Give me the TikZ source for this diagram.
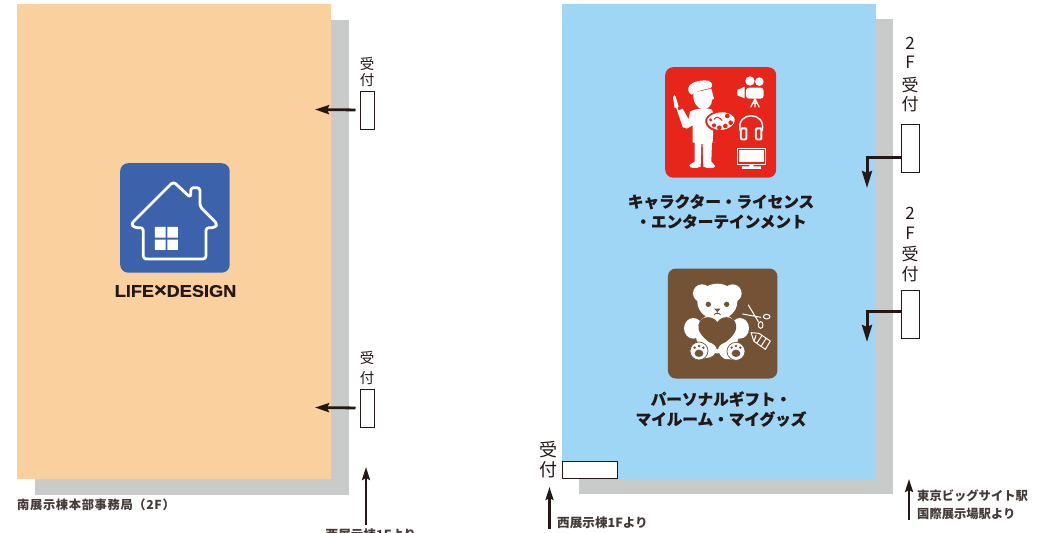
\documentclass[tikz,border=0pt]{standalone}
\usepackage{fontspec}
\setmainfont{Noto Sans CJK JP}
\newfontfamily\latinbold{Liberation Sans}[FakeStretch=1.08,FakeBold=0.4]
\usetikzlibrary{arrows.meta}
\definecolor{orangehall}{HTML}{FAD09E}
\definecolor{shadowgray}{HTML}{C9CACA}
\definecolor{bluehall}{HTML}{9FD6F5}
\definecolor{iconred}{HTML}{E8251A}
\definecolor{iconbrown}{HTML}{745235}
\definecolor{iconblue}{HTML}{3C62AC}
\definecolor{ink}{HTML}{231815}
\tikzset{
  hall/.style={draw=none,minimum width=314pt,minimum height=475pt,inner sep=0pt,anchor=north west},
  deskbox/.style={draw=ink,fill=white,line width=1pt,inner sep=0pt,anchor=north west},
  iconbox/.style={rounded corners=8pt,draw=none},
  leader/.style={draw=ink,line width=2.8pt,-{Stealth[length=14pt,width=9pt,inset=2pt]}},
  bentleader/.style={draw=ink,line width=3pt,-{Stealth[length=17pt,width=10pt,inset=2pt]}},
  thinleader/.style={draw=ink,line width=2.5pt,-{Stealth[length=13pt,width=8pt,inset=2pt]}},
  catlabel/.style={inner sep=0pt,font=\bfseries\addfontfeature{FakeBold=0.5}\fontsize{15.6}{20}\selectfont,text=ink,align=center},
  notelabel/.style={inner sep=0pt,anchor=west,font=\bfseries\fontsize{12.3}{18}\selectfont,text=ink!85!white,align=left},
  desklabel/.style={inner sep=0pt,text=ink,align=center},
  whiteline/.style={draw=white,line cap=round,line join=round},
}
\begin{document}
\begin{tikzpicture}[x=1pt,y=-1pt]
\useasboundingbox (0,0) rectangle (1058,533);
\clip (0,0) rectangle (1058,533);
% halls
\node[hall,fill=shadowgray] (leftshadow) at (35,20) {};
\node[hall,fill=orangehall] (lefthall) at (17,4) {};
\node[hall,fill=shadowgray] (rightshadow) at (579,19) {};
\node[hall,fill=bluehall] (righthall) at (562,4) {};
% desks
\node[deskbox,minimum width=14pt,minimum height=38pt] (deskA) at (359.5,90.5) {};
\node[deskbox,minimum width=14pt,minimum height=38pt] (deskB) at (359.5,388.5) {};
\node[deskbox,minimum width=17.5pt,minimum height=48pt] (deskC) at (901,123.5) {};
\node[deskbox,minimum width=17.5pt,minimum height=48pt] (deskD) at (901,289.5) {};
\node[deskbox,minimum width=55pt,minimum height=17.5pt] (deskE) at (562,460.5) {};
% desk labels
\node[desklabel,font=\fontsize{14.5}{16}\selectfont] (lblA) at (367,71.5) {受\\付};
\node[desklabel,font=\fontsize{14.5}{20}\selectfont] (lblB) at (367,368) {受\\付};
\node[desklabel,font=\fontsize{17}{19}\selectfont] (lblC) at (910,75) {2\\F\\[4pt]受\\付};
\node[desklabel,font=\fontsize{17}{20}\selectfont] (lblD) at (910,244.5) {2\\F\\[1pt]受\\付};
\node[desklabel,font=\fontsize{18}{20}\selectfont] (lblE) at (548,459.5) {受\\付};
% connectors
\coordinate (tipA) at (315,109.5);
\coordinate (tipB) at (315,407.5);
\draw[leader,shorten <=4pt] (deskA.west) -- (tipA);
\draw[leader,shorten <=4pt] (deskB.west) -- (tipB);
\coordinate (elbowC) at (867,157);
\coordinate (tipC) at (867,188);
\coordinate (elbowD) at (867,311);
\coordinate (tipD) at (867,342);
\coordinate (startC) at (901,157);
\coordinate (startD) at (901,311);
\draw[bentleader] (startC) -- (elbowC) -- (tipC);
\draw[bentleader] (startD) -- (elbowD) -- (tipD);
\coordinate (fromA) at (366,525);
\coordinate (toA) at (366,467);
\coordinate (fromB) at (549.5,529);
\coordinate (toB) at (549.5,487);
\coordinate (fromC) at (909,520);
\coordinate (toC) at (909,479);
\draw[thinleader] (fromA) -- (toA);
\draw[thinleader] (fromB) -- (toB);
\draw[thinleader] (fromC) -- (toC);
% notes
\node[notelabel,font=\bfseries\addfontfeature{LetterSpace=5}\fontsize{12.3}{18}\selectfont] (noteOffice) at (17,505) {南展示棟本部事務局（2F）};
\node[inner sep=0pt,font=\bfseries\fontsize{12.6}{18}\selectfont,text=ink!85!white] (noteWestA) at (371,534.5) {西展示棟1Fより};
\node[notelabel,font=\bfseries\fontsize{12.6}{18}\selectfont] (noteWestB) at (557,523) {西展示棟1Fより};
\node[notelabel] (noteStation) at (917,505) {東京ビッグサイト駅\\国際展示場駅より};
% category labels
\node[inner sep=0pt,font=\latinbold\bfseries\fontsize{16.8}{20}\selectfont,text=ink] (lblLife) at (175.5,291) {LIFE{\fontsize{20}{20}\selectfont×}DESIGN};
\node[catlabel] (lblChar) at (721,211.5) {キャラクター・ライセンス\\・エンターテインメント};
\node[catlabel] (lblGift) at (721,409) {パーソナルギフト・\\マイルーム・マイグッズ};
% house icon
\node[iconbox,fill=iconblue,minimum width=109.5pt,minimum height=109.5pt,anchor=north west] (iconHouse) at (120,163) {};
\begin{scope}[shift={(100,155)},x=0.3333pt,y=-0.3333pt]
  \draw[whiteline,line width=2.8pt,rounded corners=3pt]
    (220,80) -- (272,128) -- (272,98) -- (300,98) -- (300,155) -- (352,207) -- (345,218) -- (318,218)
    -- (318,312) -- (130,312) -- (130,218) -- (103,218) -- (93,207) -- cycle;
  \fill[white] (165,216) rectangle (197,248) (202,216) rectangle (234,248)
    (165,254) rectangle (197,285) (202,254) rectangle (234,285);
\end{scope}
% artist icon
\node[iconbox,fill=iconred,minimum width=111pt,minimum height=110.5pt,anchor=north west] (iconArt) at (665,67) {};
\begin{scope}[shift={(640,50)},x=0.3333pt,y=-0.3333pt]
  % beret
  \fill[white] (145,122) .. controls (140,100) and (175,88) .. (205,92) .. controls (220,98) and (218,110) .. (212,114) .. controls (195,118) and (170,122) .. (155,134) .. controls (150,132) and (147,128) .. (145,122) -- cycle;
  % head
  \fill[white] (160,128) .. controls (158,155) and (168,176) .. (192,178) .. controls (208,176) and (216,162) .. (216,150) -- (222,146) -- (214,116) -- cycle;
  % torso and legs
  \fill[white] (150,185) .. controls (165,176) and (195,172) .. (215,178) -- (222,195) -- (218,278) -- (226,278)
    -- (216,278) -- (214,335) -- (226,348) .. controls (226,356) and (200,356) .. (190,350) -- (188,282) -- (184,282) -- (182,350)
    .. controls (170,356) and (146,356) .. (148,345) -- (164,335) -- (164,278) -- (158,278) -- (158,226) -- (140,236) -- (132,232) -- (114,182) -- (128,176) -- (146,208) -- cycle;
  % brush
  \draw[white,line width=1.6pt] (108,165) -- (131,232);
  \fill[white] (99,142) .. controls (100,134) and (106,134) .. (107,140) -- (116,170) -- (104,174) -- cycle;
  % palette
  \fill[iconred] (196,208) .. controls (208,178) and (268,172) .. (288,200) .. controls (298,226) and (268,246) .. (240,246) .. controls (222,246) and (192,234) .. (196,208) -- cycle;
  \fill[white] (202,208) .. controls (214,185) and (265,178) .. (282,202) .. controls (292,222) and (265,240) .. (240,240) .. controls (225,240) and (198,230) .. (202,208) -- cycle;
  \fill[iconred] (262,198) circle [radius=7pt*0.3333] (272,218) circle [radius=7pt*0.3333] (256,228) circle [radius=7pt*0.3333] (238,233) circle [radius=7pt*0.3333] (222,226) circle [radius=6pt*0.3333] (212,210) circle [radius=5pt*0.3333];
  \draw[iconred,line width=1pt] (222,208) .. controls (230,196) and (240,204) .. (247,212);
  % movie camera
  \fill[white] (330,93) circle [radius=14pt*0.3333] (358,95) circle [radius=13pt*0.3333];
  \fill[white,rounded corners=3pt] (318,113) rectangle (371,146);
  \fill[white] (292,120) -- (314,110) -- (314,145) -- (292,136) -- cycle;
  \draw[white,line width=1.2pt] (345,146) -- (332,172) (345,146) -- (345,172) (345,146) -- (358,172) (336,160) -- (354,160);
  % headphones
  \draw[white,line width=1.5pt] (301,243) .. controls (285,182) and (382,182) .. (366,243);
  \fill[white,rounded corners=2pt] (300,232) rectangle (322,271) (345,232) rectangle (367,271);
  \fill[iconred,rounded corners=1pt] (306,238) rectangle (316,266) (351,238) rectangle (361,266);
  % monitor
  \fill[white] (291,293) rectangle (379,344);
  \fill[iconred] (294,296) rectangle (376,341);
  \fill[white] (298,300) rectangle (372,337);
  \fill[white] (328,344) rectangle (340,349) (306,349) rectangle (363,357);
\end{scope}
% bear icon
\node[iconbox,fill=iconbrown,minimum width=109.5pt,minimum height=110pt,anchor=north west] (iconBear) at (667.7,268.3) {};
\begin{scope}[shift={(630,260)},x=0.3333pt,y=-0.3333pt]
  \fill[white] (216,100) circle [radius=27pt*0.3333] (308,100) circle [radius=27pt*0.3333];
  \fill[white] (262,125) ellipse [x radius=60pt*0.3333,y radius=54pt*0.3333];
  \fill[white] (262,220) ellipse [x radius=66pt*0.3333,y radius=60pt*0.3333];
  \fill[white] (190,205) ellipse [x radius=28pt*0.3333,y radius=31pt*0.3333];
  \fill[white] (330,205) ellipse [x radius=27pt*0.3333,y radius=31pt*0.3333];
  \fill[iconbrown] (235,133) circle [radius=8pt*0.3333] (290,133) circle [radius=8pt*0.3333];
  \fill[iconbrown] (252,146) -- (272,146) -- (262,156) -- cycle;
  \draw[iconbrown,line width=0.8pt] (262,152) -- (262,160) (252,165) .. controls (255,160) and (259,160) .. (262,160) .. controls (265,160) and (270,160) .. (272,165);
  % heart
  \fill[iconbrown] (262,186) .. controls (245,160) and (198,170) .. (206,208) .. controls (212,232) and (245,250) .. (262,268) .. controls (280,250) and (312,232) .. (318,208) .. controls (326,170) and (279,160) .. (262,186) -- cycle;
  % feet
  \fill[white] (240,292) .. controls (255,287) and (262,270) .. (258,262) .. controls (250,245) and (215,240) .. (200,248) -- (210,297) -- cycle;
  \fill[white] (285,297) .. controls (270,292) and (262,270) .. (266,262) .. controls (275,245) and (310,240) .. (325,248) -- (320,299) -- cycle;
  \fill[white] (207,273) circle [radius=27pt*0.3333] (318,274) circle [radius=27pt*0.3333];
  \draw[iconbrown,line width=0.7pt] (207,273) circle [radius=27pt*0.3333] (318,274) circle [radius=27pt*0.3333];
  \fill[iconbrown] (207,280) ellipse [x radius=13pt*0.3333,y radius=11pt*0.3333] (318,280) ellipse [x radius=13pt*0.3333,y radius=11pt*0.3333];
  \fill[iconbrown] (194,263) circle [radius=4pt*0.3333] (207,258) circle [radius=4pt*0.3333] (220,263) circle [radius=4pt*0.3333]
    (305,263) circle [radius=4pt*0.3333] (318,258) circle [radius=4pt*0.3333] (331,263) circle [radius=4pt*0.3333];
  % scissors
  \draw[whiteline,line width=1pt] (338,162) -- (392,172) (355,135) -- (385,185);
  \draw[whiteline,line width=1pt] (410,170) ellipse [x radius=10pt*0.3333,y radius=7pt*0.3333] (392,195) ellipse [x radius=7pt*0.3333,y radius=10pt*0.3333];
  % tag
  \draw[whiteline,line width=1pt] (363,218) -- (387,220) -- (421,243) -- (406,268) -- (372,244) -- cycle (378,226) -- (372,244) (395,228) -- (380,250) (408,236) -- (393,259);
\end{scope}
\end{tikzpicture}
\end{document}
